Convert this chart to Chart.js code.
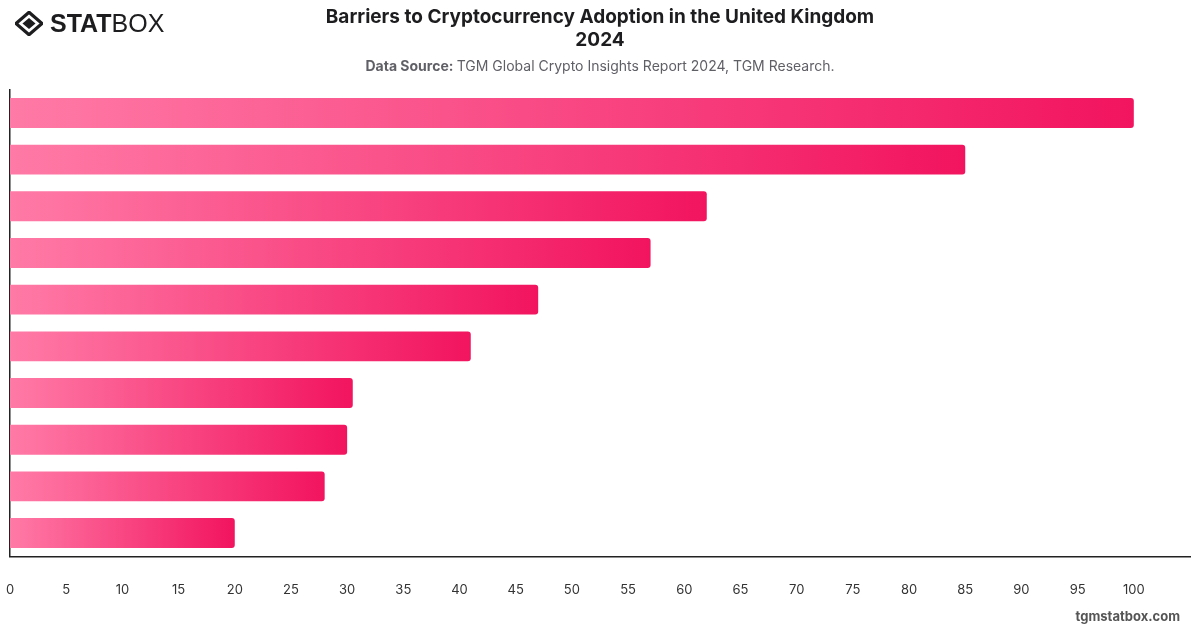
<!DOCTYPE html>
<html>
<head>
<meta charset="utf-8">
<script src="https://cdn.jsdelivr.net/npm/chart.js@4/dist/chart.umd.min.js"></script>
<style>
  html, body { margin: 0; padding: 0; background: #fff; }
  #wrap { position: relative; width: 1200px; height: 628px; }
  #logo { position: absolute; left: 15px; top: 9px; display: flex; align-items: center; font-family: "Liberation Sans", Arial, sans-serif; color: #1d1d1f; }
  #logo .stat { font-weight: 900; font-size: 25px; letter-spacing: 0px; margin-left: 7px; }
  #logo .box { font-weight: 400; font-size: 25px; }
</style>
</head>
<body>
<div id="wrap">
  <canvas id="myChart" width="1200" height="628"></canvas>
  <div id="logo">
    <svg width="28" height="25" viewBox="0 0 30 26">
      <polygon points="15,1 29,13 15,25 1,13" fill="none" stroke="#1d1d1f" stroke-width="3.5"/>
      <polygon points="15,7 22,13 15,19 8,13" fill="#1d1d1f"/>
    </svg>
    <span class="stat">STAT</span><span class="box">BOX</span>
  </div>
</div>
<script>
const ctx = document.getElementById('myChart').getContext('2d');

// barriers (labels not shown on the chart, kept for tooltips)
const categories = [
    'Lack of knowledge', 'Security concerns', 'Volatility', 'Fraud and scams',
    'Lack of regulation', 'Complexity', 'Limited acceptance', 'High fees',
    'Lack of trust', 'Environmental concerns'
];
const values = [100, 85, 62, 57, 47, 41, 30.5, 30, 28, 20];

const xMax = 105;
const xStep = 5;

const titleLines = ['Barriers to Cryptocurrency Adoption in the United Kingdom', '2024'];
const sourceText = 'TGM Global Crypto Insights Report 2024, TGM Research.';

// gradient per bar: light pink at 0, deep pink at the bar end
function barGradient(context) {
    const chart = context.chart;
    const area = chart.chartArea;
    if (!area) return '#f5166a';
    const x = chart.scales.x;
    const x0 = x.getPixelForValue(0);
    const x1 = x.getPixelForValue(context.raw);
    const g = chart.ctx.createLinearGradient(x0, 0, x1, 0);
    g.addColorStop(0, '#ff7aa6');
    g.addColorStop(1, '#f2145f');
    return g;
}

// subtitle with bold "Data Source:" prefix, plus footer
const sourcePlugin = {
    id: 'sourceLine',
    afterDraw(chart) {
        const c = chart.ctx;
        c.save();
        c.textBaseline = 'middle';
        c.font = 'bold 14px Inter, "Liberation Sans", sans-serif';
        const a = 'Data Source: ';
        const wa = c.measureText(a).width;
        c.font = '14px Inter, "Liberation Sans", sans-serif';
        const wb = c.measureText(sourceText).width;
        let sx = 600 - (wa + wb) / 2;
        c.fillStyle = '#5f5f66';
        c.font = 'bold 14px Inter, "Liberation Sans", sans-serif';
        c.fillText(a, sx, 67);
        c.font = '14px Inter, "Liberation Sans", sans-serif';
        c.fillText(sourceText, sx + wa, 67);

        c.font = 'bold 13px Inter, "Liberation Sans", sans-serif';
        c.fillStyle = '#555';
        c.textAlign = 'right';
        c.fillText('tgmstatbox.com', 1180, 617);
        c.restore();
    }
};

const myChart = new Chart(ctx, {
    type: 'bar',
    data: {
        labels: categories,
        datasets: [{
            data: values,
            backgroundColor: barGradient,
            borderRadius: 3,
            borderSkipped: 'start',
            categoryPercentage: 0.8,
            barPercentage: 0.8
        }]
    },
    options: {
        indexAxis: 'y',
        responsive: false,
        animation: false,
        layout: {
            padding: { left: 10, right: 10, top: 0, bottom: 12 }
        },
        scales: {
            x: {
                min: 0,
                max: xMax,
                grid: { display: false },
                border: { display: true, color: '#222', width: 1.5 },
                ticks: {
                    stepSize: xStep,
                    padding: 18,
                    color: '#333',
                    font: { family: 'Inter, "Liberation Sans", sans-serif', size: 13 },
                    callback: (v) => v > 100 ? '' : v
                },
                afterFit: (scale) => { scale.paddingLeft = 0; scale.paddingRight = 0; }
            },
            y: {
                grid: { display: false },
                border: { display: true, color: '#222', width: 1.5 },
                ticks: { display: false },
                afterFit: (scale) => { scale.width = 0; }
            }
        },
        plugins: {
            legend: { display: false },
            title: {
                display: true,
                text: titleLines,
                color: '#1d1d1f',
                font: { family: 'Inter, "Liberation Sans", sans-serif', size: 19, weight: 'bold', lineHeight: 1.2 },
                padding: { top: 6, bottom: 38 }
            }
        }
    },
    plugins: [sourcePlugin]
});
</script>
</body>
</html>
